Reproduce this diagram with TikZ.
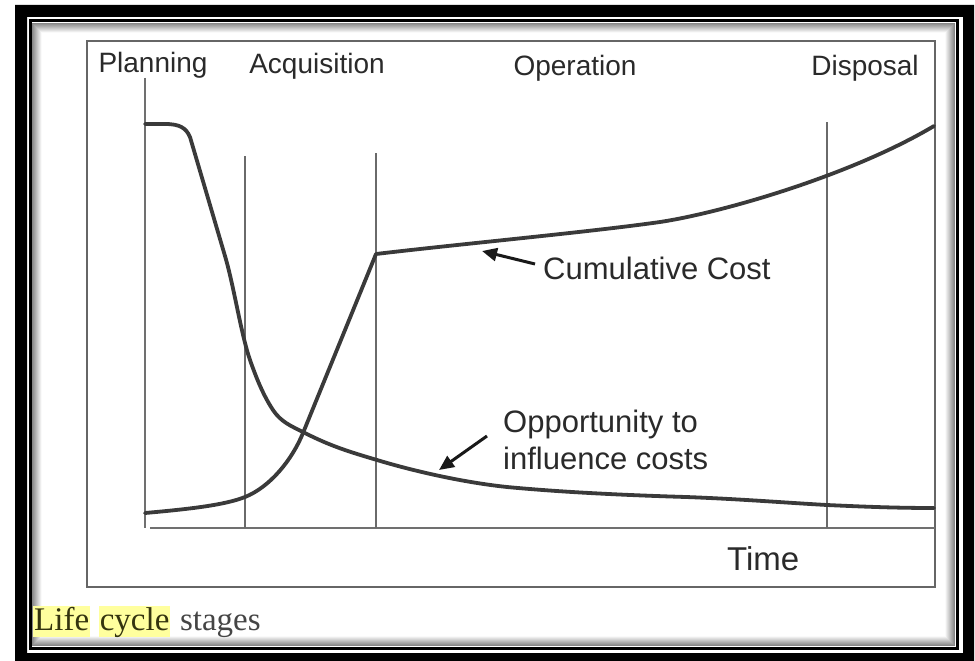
\documentclass[tikz,border=0pt]{standalone}
\usepackage{fontspec}
\setmainfont{Liberation Serif}
\setsansfont{Liberation Sans}
\usetikzlibrary{arrows.meta}
\definecolor{txt}{HTML}{2A2A2A}
\definecolor{crv}{HTML}{3A3A3A}
\definecolor{phs}{HTML}{6A6A6A}
\definecolor{axc}{HTML}{707070}
\definecolor{boxc}{HTML}{666666}
\definecolor{hl}{HTML}{FFFF9E}
\definecolor{captxt}{HTML}{454545}
\definecolor{capdark}{HTML}{34340F}
\begin{document}
\begin{tikzpicture}[x=1pt,y=-1pt,
  lbl/.style={font=\sffamily\fontsize{28}{30}\selectfont, text=txt, inner sep=0pt, anchor=base},
  lblb/.style={font=\sffamily\fontsize{31}{33}\selectfont, text=txt, inner sep=0pt, anchor=base west},
  lbltime/.style={font=\sffamily\fontsize{33}{35}\selectfont, text=txt, inner sep=0pt, anchor=base west},
  capt/.style={font=\fontsize{33}{35}\selectfont, inner xsep=1pt, inner ysep=0pt, anchor=base west, text height=24pt, text depth=7pt},
  curve/.style={draw=crv, line width=3.8pt, line cap=round, line join=round},
  phase/.style={draw=phs, line width=2pt},
  axisline/.style={draw=axc, line width=2.5pt},
  arr/.style={draw=black!90, line width=3pt, -{Triangle[length=15pt,width=13pt]}}
]
\useasboundingbox (0,0) rectangle (975,661);
\fill[white] (0,0) rectangle (975,661);
% outer thick frame
\fill[black, even odd rule] (15,5) rectangle (974,661) (27,17) rectangle (963,653);
% inner shadow
\foreach \i in {1,...,10} {
  \pgfmathtruncatemacro\sh{52-5*\i}
  \draw[black!\sh, line width=1.1pt] (31.5+\i,22.5+\i) rectangle (955.5-\i,646.5-\i);
}
% thin frame
\draw[black, line width=3pt] (30.5,21) rectangle (957,648.5);
% chart box
\draw[boxc, line width=2pt] (87,41) rectangle (935,587);
% axes
\draw[axisline] (145,78) -- (145,528);
\draw[axisline] (150,528) -- (935,528);
% phase lines
\draw[phase] (245,156) -- (245,528);
\draw[phase] (376,153) -- (376,528);
\draw[phase] (827,122) -- (827,528);
% opportunity curve
\draw[curve] (145,124) -- (165,124) .. controls (180,124) and (186,128) .. (190,137)
  -- (225,256) .. controls (234,286.5) and (241,334) .. (250,360)
  .. controls (256,377) and (263,395) .. (273,410)
  .. controls (281,422) and (291,426) .. (303,432)
  .. controls (330,446) and (350,452) .. (377,460)
  .. controls (410,470) and (460,482) .. (507,487)
  .. controls (560,492) and (620,495) .. (686,497)
  .. controls (740,499) and (790,503) .. (827,505)
  .. controls (870,507) and (900,508) .. (934,508);
% cumulative cost curve
\draw[curve] (145,513) .. controls (190,509) and (225,505) .. (245,497)
  .. controls (270,487) and (292,460) .. (303,433)
  -- (376,254)
  .. controls (460,244) and (590,232) .. (660,222)
  .. controls (720,213) and (850,176) .. (934,126);
% stage labels
\node[lbl] (plan) at (153,73) {Planning};
\node[lbl] (acq) at (317,74) {Acquisition};
\node[lbl] (oper) at (575,76) {Operation};
\node[lbl] (disp) at (865,75) {Disposal};
% curve labels
\node[lblb] (cum) at (543,279) {Cumulative Cost};
\node[lblb] (oppa) at (503,432) {Opportunity to};
\node[lblb] (oppb) at (503,469) {influence costs};
\node[lbltime] (time) at (727,570) {Time};
% arrows
\coordinate (cumtail) at (535,264);
\coordinate (cumtip) at (482,251);
\draw[arr] (cumtail) -- (cumtip);
\coordinate (opptail) at (487,436);
\coordinate (opptip) at (439,470);
\draw[arr] (opptail) -- (opptip);
% caption
\node[capt, fill=hl, text=capdark] (life) at (33,630) {Life};
\node[capt, fill=hl, text=capdark] (cycle) at ([xshift=8.25pt]life.base east) {cycle};
\node[capt, text=captxt] (stages) at ([xshift=8.25pt]cycle.base east) {stages};
\end{tikzpicture}
\end{document}
